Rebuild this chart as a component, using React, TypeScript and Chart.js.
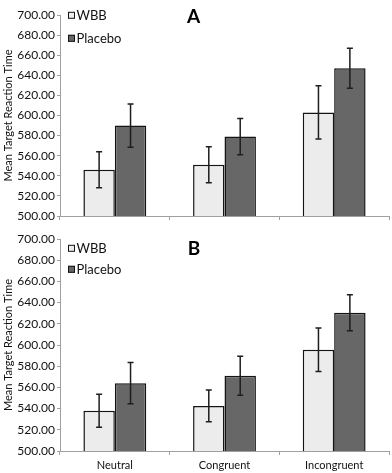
import React, { useEffect, useRef } from "react";
import { Chart, registerables } from "chart.js";

Chart.register(...registerables);

// ---- data ----
const categories = ["Neutral", "Congruent", "Incongruent"];
const seriesNames = ["WBB", "Placebo"];

const wbbA = [546, 551, 603];
const wbbAErr = [18, 18, 26.5];
const placeboA = [590, 579, 647];
const placeboAErr = [21.5, 18, 20];

const wbbB = [538, 542.5, 595.5];
const wbbBErr = [15.5, 15, 20.5];
const placeboB = [564, 571, 630.5];
const placeboBErr = [19.5, 18.5, 17];

const yMin = 500;
const yMax = 700;
const yStep = 20;
const yTitle = "Mean Target Reaction Time";
const panelLabels = ["A", "B"];

// ---- styles ----
const FONT = "Lato, 'Open Sans', sans-serif";
const TEXT = "#111111";
const AXIS = "#a0a0a0";
const WBB_FILL = "#ececec";
const PLC_FILL = "#676767";
const BORDER = "#141414";

const errorBarPlugin = {
  id: "errorBars",
  afterDatasetsDraw(chart: any) {
    const ctx = chart.ctx;
    const yScale = chart.scales.y;
    chart.data.datasets.forEach((ds: any, di: number) => {
      const meta = chart.getDatasetMeta(di);
      meta.data.forEach((bar: any, i: number) => {
        const v = ds.data[i];
        const e = ds.errors[i];
        const top = yScale.getPixelForValue(v + e);
        const bot = yScale.getPixelForValue(v - e);
        ctx.save();
        ctx.strokeStyle = "#1e1e1e";
        ctx.lineWidth = 1.5;
        ctx.beginPath();
        ctx.moveTo(bar.x, top);
        ctx.lineTo(bar.x, bot);
        ctx.moveTo(bar.x - 3, top);
        ctx.lineTo(bar.x + 3, top);
        ctx.moveTo(bar.x - 3, bot);
        ctx.lineTo(bar.x + 3, bot);
        ctx.stroke();
        ctx.restore();
      });
    });
  },
};

const decorPlugin = {
  id: "panelDecor",
  afterDraw(chart: any, _args: any, opts: any) {
    const ctx = chart.ctx;
    ctx.save();
    const fills = [WBB_FILL, PLC_FILL];
    seriesNames.forEach((name, i) => {
      const cy = opts.legendY[i];
      ctx.fillStyle = fills[i];
      ctx.fillRect(68, cy - 3.5, 7, 7);
      ctx.strokeStyle = BORDER;
      ctx.lineWidth = 1;
      ctx.strokeRect(68.5, cy - 3, 6, 6);
      ctx.fillStyle = TEXT;
      ctx.font = `13px ${FONT}`;
      ctx.textAlign = "left";
      ctx.textBaseline = "middle";
      ctx.fillText(name, 76.5, cy + 0.5);
    });
    ctx.font = `bold 19px ${FONT}`;
    ctx.fillStyle = "#000000";
    ctx.textAlign = "center";
    ctx.textBaseline = "middle";
    ctx.fillText(opts.label, opts.labelX, opts.labelY);
    ctx.restore();
  },
};

function makeConfig(
  wbb: number[],
  wbbErr: number[],
  plc: number[],
  plcErr: number[],
  showX: boolean,
  padTop: number,
  xHeight: number,
  decor: any
): any {
  const font = { family: FONT, size: 11 };
  return {
    type: "bar",
    data: {
      labels: categories,
      datasets: [
        {
          label: seriesNames[0],
          data: wbb,
          errors: wbbErr,
          backgroundColor: WBB_FILL,
          borderColor: BORDER,
          borderWidth: 1.5,
          categoryPercentage: 0.573,
          barPercentage: 1,
        },
        {
          label: seriesNames[1],
          data: plc,
          errors: plcErr,
          backgroundColor: PLC_FILL,
          borderColor: BORDER,
          borderWidth: 1.5,
          categoryPercentage: 0.573,
          barPercentage: 1,
        },
      ],
    },
    options: {
      responsive: false,
      animation: false,
      layout: { padding: { top: padTop, right: 3, left: 0, bottom: 0 } },
      plugins: {
        legend: { display: false },
        tooltip: { enabled: false },
        panelDecor: decor,
      },
      scales: {
        x: {
          offset: true,
          grid: {
            display: true,
            offset: true,
            drawOnChartArea: false,
            drawTicks: true,
            tickLength: 4,
            color: AXIS,
          },
          border: { display: true, color: AXIS, width: 1 },
          ticks: { display: showX, font, color: TEXT, padding: 4 },
          afterFit: (s: any) => {
            s.height = xHeight;
          },
        },
        y: {
          min: yMin,
          max: yMax,
          ticks: {
            stepSize: yStep,
            font: { family: FONT, size: 12 },
            color: TEXT,
            padding: 2,
            callback: (v: any) => Number(v).toFixed(2),
          },
          grid: {
            drawOnChartArea: false,
            drawTicks: true,
            tickLength: 3,
            color: AXIS,
          },
          border: { display: true, color: AXIS, width: 1 },
          title: {
            display: true,
            text: yTitle,
            font,
            color: TEXT,
            padding: { top: 2, bottom: 0 },
          },
          afterFit: (s: any) => {
            s.width = 60;
          },
        },
      },
    },
    plugins: [errorBarPlugin, decorPlugin],
  };
}

export default function App() {
  const refA = useRef<HTMLCanvasElement>(null);
  const refB = useRef<HTMLCanvasElement>(null);

  useEffect(() => {
    const cA = new Chart(
      refA.current as any,
      makeConfig(wbbA, wbbAErr, placeboA, placeboAErr, false, 15, 10, {
        legendY: [15.3, 38.3],
        label: panelLabels[0],
        labelX: 193.5,
        labelY: 16.5,
      })
    );
    const cB = new Chart(
      refB.current as any,
      makeConfig(wbbB, wbbBErr, placeboB, placeboBErr, true, 13, 22, {
        legendY: [22.3, 43.3],
        label: panelLabels[1],
        labelX: 194,
        labelY: 22.5,
      })
    );
    return () => {
      cA.destroy();
      cB.destroy();
    };
  }, []);

  return (
    <div
      style={{
        position: "absolute",
        left: 0,
        top: 0,
        width: 392,
        height: 473,
        background: "#ffffff",
      }}
    >
      <canvas ref={refA} width={392} height={226} style={{ display: "block" }} />
      <canvas ref={refB} width={392} height={247} style={{ display: "block" }} />
    </div>
  );
}
